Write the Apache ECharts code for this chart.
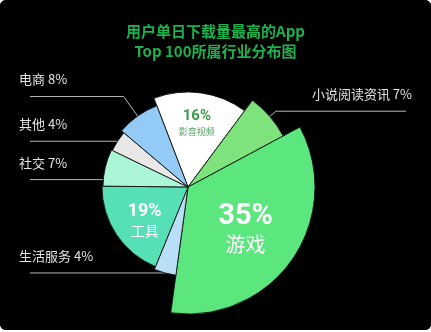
<!DOCTYPE html>
<html>
<head>
<meta charset="utf-8">
<script src="https://cdn.jsdelivr.net/npm/echarts@6/dist/echarts.min.js"></script>
<style>
    html, body { margin: 0; padding: 0; background: #fff; }
    #container { width: 431px; height: 330px; background: #000; border-radius: 6px; overflow: hidden; }
</style>
</head>
<body>
<div id="container"></div>
<script>
// 行业分布数据（顺时针，从影音视频开始）
var categories = ['影音视频', '小说阅读资讯', '游戏', '生活服务', '工具', '社交', '其他', '电商'];
var shares = [16, 7, 35, 4, 19, 7, 4, 8];

var colors = ['#ffffff', '#7ee37c', '#5be67e', '#b8def8', '#57e0b6', '#aaf6d7', '#e8e8e8', '#93cbf6'];
var outerRadius = [95, 108, 127, 89, 86, 85, 84, 87];

var FONT = 'Noto Sans CJK SC';
var NUM_FONT = 'Roboto';

// 扇区内的标签
var insideLabels = {
    '影音视频': { num: 15, numColor: '#3d9a4f', name: 9, nameColor: '#55a465', dx: 2, dy: -14 },
    '游戏': { num: 29, numColor: '#ffffff', name: 20, nameColor: '#ffffff', dx: 3, dy: 4 },
    '工具': { num: 18, numColor: '#ffffff', name: 14, nameColor: '#ffffff', dx: -5, dy: 8 }
};
// 扇区外的标签：引导线第一段长度，整体上下偏移
var lineLength = { '小说阅读资讯': 8, '生活服务': 0, '社交': 0, '其他': 0, '电商': 24 };
var lineShift = { '社交': 12 };

var myChart = echarts.init(document.getElementById('container'));

var series = categories.map(function (name, i) {
    var inside = insideLabels[name];
    var s = {
        type: 'pie',
        center: [188, 187],
        radius: [0, outerRadius[i]],
        startAngle: 111,
        clockwise: true,
        silent: true,
        animation: false,
        avoidLabelOverlap: false,
        data: categories.map(function (n, j) {
            var own = j === i;
            return {
                name: n,
                value: shares[j],
                itemStyle: own
                    ? { color: colors[j], borderColor: 'rgba(20,20,20,0.9)', borderWidth: 1 }
                    : { color: 'rgba(0,0,0,0)', borderWidth: 0 },
                label: { show: own },
                labelLine: { show: own && !inside }
            };
        })
    };
    if (inside) {
        s.label = {
            position: 'inside',
            formatter: '{p|{c}%}\n{n|{b}}',
            rich: {
                p: { fontFamily: NUM_FONT, fontWeight: 'bold', fontSize: inside.num, color: inside.numColor, lineHeight: inside.num + 2 },
                n: { fontFamily: FONT, fontSize: inside.name, color: inside.nameColor, lineHeight: inside.name + 4 }
            }
        };
        s.labelLayout = function () {
            return { dx: inside.dx, dy: inside.dy };
        };
    } else {
        var shift = lineShift[name] || 0;
        s.label = {
            position: 'outside',
            alignTo: 'edge',
            edgeDistance: 19,
            formatter: '{b} {c}%',
            color: '#e4e4e4',
            fontFamily: FONT,
            fontSize: 13
        };
        s.labelLine = {
            length: lineLength[name],
            length2: 10,
            lineStyle: { color: '#b4b4b4', width: 1 }
        };
        s.labelLayout = function (params) {
            var pts = params.labelLinePoints;
            var r = params.labelRect;
            if (pts) {
                pts[2][0] = r.x < 188 ? r.x + 11 : r.x + r.width - 6;
                pts.forEach(function (p) { p[1] += shift; });
            }
            return { dy: -17 + shift, labelLinePoints: pts };
        };
    }
    return s;
});

var option = {
    backgroundColor: '#000',
    title: {
        text: '用户单日下载量最高的App\nTop 100所属行业分布图',
        left: 'center',
        top: 16,
        textStyle: {
            color: '#1db24d',
            fontFamily: FONT,
            fontSize: 15,
            fontWeight: 'bold',
            lineHeight: 20
        }
    },
    series: series
};

myChart.setOption(option);
</script>
</body>
</html>
